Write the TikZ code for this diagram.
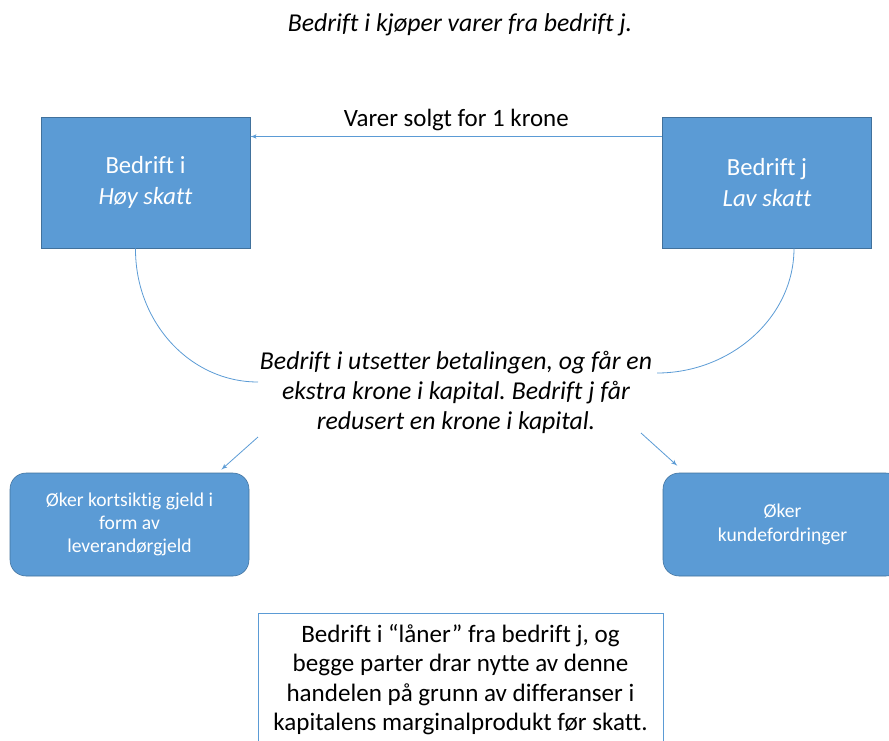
\documentclass[tikz,border=0pt]{standalone}
\usepackage{fontspec}
\setmainfont[Ligatures=NoCommon]{Carlito}
\frenchspacing
\usetikzlibrary{arrows,positioning}
\definecolor{boxblue}{HTML}{5B9BD5}
\definecolor{boxedge}{HTML}{41719C}
\definecolor{linkblue}{HTML}{5B9BD5}
\tikzset{
>=latex',
  firm/.style={
    rectangle,
    fill=boxblue,
    draw=boxedge, thin,
    text=white,
    minimum width=156.75pt,
    minimum height=98.25pt,
    align=center,
    font=\fontsize{18.5}{23}\selectfont},
  effect/.style={
    rectangle,
    rounded corners=12pt,
    fill=boxblue,
    draw=boxedge, thin,
    text=white,
    minimum width=179.25pt,
    minimum height=77.25pt,
    align=center,
    font=\fontsize{14.7}{17.5}\selectfont},
  link/.style={draw=linkblue, line width=0.6pt},
}

\begin{document}
\begin{tikzpicture}[
    x=0.75pt, y=-0.75pt,
    caption/.style={font=\fontsize{19.3}{22.5}\selectfont\itshape},
    note/.style={rectangle, draw=linkblue, thin, fill=white,
      minimum width=303.75pt, minimum height=99.75pt,
      align=center, font=\fontsize{18.8}{22}\selectfont}
    ]
    \useasboundingbox (0,0) rectangle (889,740);

    %title
    \node[caption] (title) at (460,25) {Bedrift i kjøper varer fra bedrift j.};

    %firms
    \node[firm] (hoy) at (145.5,182.5) {Bedrift i\\\textit{Høy skatt}};
    \node[firm] (lav) at (767,182.5) {Bedrift j\\\textit{Lav skatt}};

    %sale
    \draw[link,->] ([yshift=34.5pt]lav.west) -- ([yshift=34.5pt]hoy.east)
        node[midway,above=1pt,font=\fontsize{18.7}{23}\selectfont]
        {Varer solgt for 1 krone};

    %payment
    \node[caption,align=center] (utsett) at (456,392)
        {Bedrift i utsetter betalingen, og får en\\
         ekstra krone i kapital. Bedrift j får\\
         redusert en krone i kapital.};
    \coordinate (ci) at (258,382);
    \coordinate (cj) at (657,373);
    \draw[link] ([xshift=-7.5pt]hoy.south) .. controls (135,322) and (190,382) .. (ci);
    \draw[link] ([xshift=20.25pt]lav.south) .. controls (794,318) and (730,373) .. (cj);

    %balance sheet effects
    \node[effect] (gjeld) at (129.5,524.5)
        {Øker kortsiktig gjeld i\\form av\\leverandørgjeld};
    \node[effect] (kunde) at (782.5,524.5) {Øker\\kundefordringer};

    \coordinate (si) at (258,437);
    \coordinate (sj) at (641,433);
    \draw[link,->] (si) -- ([xshift=-21pt,yshift=2.25pt]gjeld.north east);
    \draw[link,->] (sj) -- ([xshift=10.9pt,yshift=5.25pt]kunde.north west);

    %conclusion
    \node[note] (laan) at (460.5,679.5)
        {Bedrift i “låner” fra bedrift j, og\\
         begge parter drar nytte av denne\\
         handelen på grunn av differanser i\\
         kapitalens marginalprodukt før skatt.};

\end{tikzpicture}
\end{document}
